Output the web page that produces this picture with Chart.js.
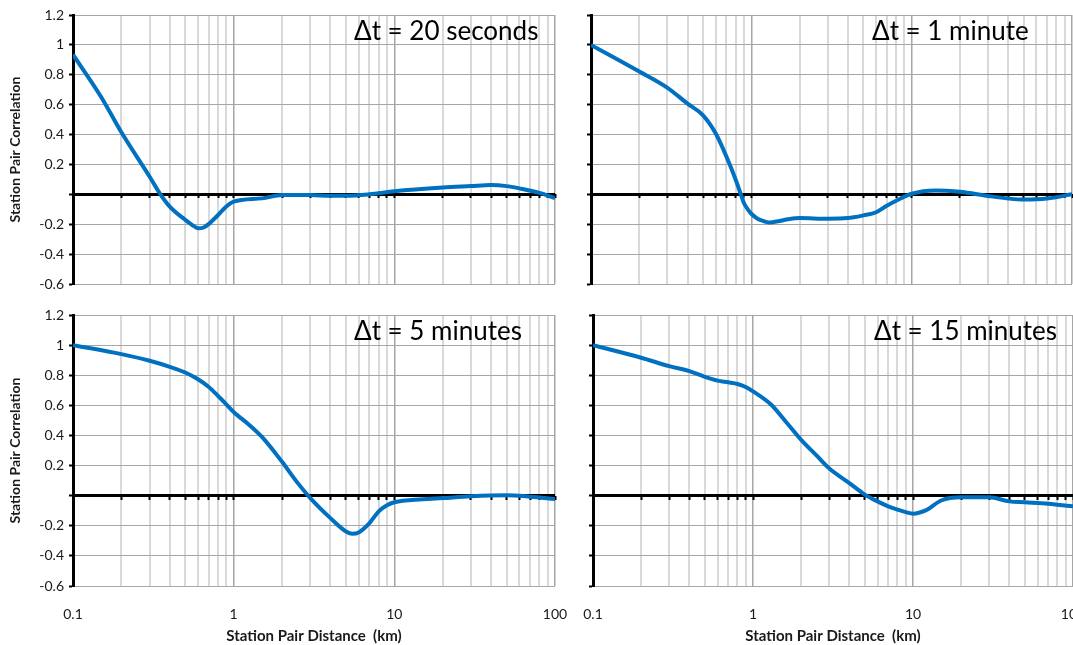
<!DOCTYPE html>
<html>
<head>
<meta charset="utf-8">
<script src="https://cdn.jsdelivr.net/npm/chart.js@4/dist/chart.umd.min.js"></script>
<style>
  html, body { margin: 0; padding: 0; background: #fff; width: 1073px; height: 645px; overflow: hidden; }
  canvas { position: absolute; }
</style>
</head>
<body>
<canvas id="c1" width="580" height="300" style="left:0;top:0"></canvas>
<canvas id="c2" width="520" height="300" style="left:575px;top:0"></canvas>
<canvas id="c3" width="580" height="345" style="left:0;top:300px"></canvas>
<canvas id="c4" width="520" height="345" style="left:575px;top:300px"></canvas>
<script>
// ---- data ----
const panelTitles = ['\u0394t = 20 seconds', '\u0394t = 1 minute', '\u0394t = 5 minutes', '\u0394t = 15 minutes'];

const dist20s = [0.1, 0.15, 0.2, 0.3, 0.35, 0.4, 0.5, 0.55, 0.6, 0.65, 0.7, 0.8, 0.9, 1, 1.5, 2, 3, 4, 5, 7, 10, 20, 30, 40, 50, 60, 80, 100];
const corr20s = [0.935, 0.65, 0.415, 0.118, 0.0, -0.082, -0.171, -0.204, -0.227, -0.222, -0.198, -0.138, -0.082, -0.049, -0.027, -0.005, -0.005, -0.01, -0.01, 0.0, 0.02, 0.045, 0.055, 0.062, 0.055, 0.04, 0.01, -0.025];

const dist1m = [0.1, 0.2, 0.3, 0.4, 0.5, 0.6, 0.7, 0.8, 0.86, 0.9, 0.95, 1, 1.1, 1.2, 1.3, 1.5, 1.7, 2, 3, 4, 5, 6, 7, 8, 10, 14, 20, 30, 40, 50, 70, 100];
const corr1m = [1.0, 0.822, 0.713, 0.607, 0.529, 0.407, 0.251, 0.096, 0.0, -0.06, -0.1, -0.13, -0.165, -0.18, -0.189, -0.178, -0.167, -0.159, -0.163, -0.159, -0.141, -0.12, -0.076, -0.043, 0.004, 0.026, 0.017, -0.011, -0.028, -0.035, -0.028, 0.0];

const dist5m = [0.1, 0.2, 0.3, 0.4, 0.5, 0.6, 0.7, 0.8, 0.9, 1, 1.25, 1.5, 2, 2.5, 3, 4, 5, 5.5, 6, 7, 8, 9, 10, 15, 20, 30, 50, 70, 100];
const corr5m = [1.0, 0.94, 0.896, 0.856, 0.818, 0.773, 0.722, 0.662, 0.607, 0.556, 0.47, 0.39, 0.225, 0.085, -0.016, -0.149, -0.238, -0.253, -0.244, -0.182, -0.104, -0.064, -0.044, -0.024, -0.016, -0.004, 0.002, -0.007, -0.022];

const dist15m = [0.1, 0.2, 0.3, 0.4, 0.5, 0.6, 0.7, 0.8, 0.9, 1, 1.3, 1.6, 2, 2.5, 3, 4, 5, 6, 7, 8, 9, 10, 12, 15, 20, 30, 40, 50, 70, 100];
const corr15m = [1.0, 0.916, 0.86, 0.827, 0.789, 0.764, 0.753, 0.742, 0.722, 0.693, 0.604, 0.493, 0.371, 0.266, 0.18, 0.084, 0.007, -0.038, -0.071, -0.093, -0.109, -0.12, -0.098, -0.032, -0.011, -0.011, -0.038, -0.044, -0.053, -0.071];

const xTickValues = [0.1, 0.2, 0.3, 0.4, 0.5, 0.6, 0.7, 0.8, 0.9, 1, 2, 3, 4, 5, 6, 7, 8, 9, 10, 20, 30, 40, 50, 60, 70, 80, 90, 100];
const xMajorTicks = [0.1, 1, 10, 100];
const xTickLabels = ['0.1', '1', '10', '100'];
const yTickMin = -0.6, yTickMax = 1.2, yTickStep = 0.2;

const yTitle = 'Station Pair Correlation';
const xTitle = 'Station Pair Distance  (km)';

// ---- chart construction ----
const FONT = 'Lato, "Open Sans", sans-serif';

function isMajor(v) { return xMajorTicks.some(m => Math.abs(m - v) < 1e-9); }
function setTicks(scale) { scale.ticks = xTickValues.map(v => ({ value: v, major: isMajor(v) })); }
function noOverhang(s) { s.paddingLeft = 0; s.paddingRight = 0; s.paddingTop = 0; s.paddingBottom = 0; }

const panelTitlePlugin = {
  id: 'panelTitle',
  afterDatasetsDraw(chart, args, opts) {
    const ctx = chart.ctx, a = chart.chartArea;
    ctx.save();
    ctx.font = '26px ' + FONT;
    ctx.fillStyle = '#000';
    ctx.textAlign = 'left';
    ctx.textBaseline = 'middle';
    ctx.fillText(opts.text, a.left + 281, a.top + 17);
    ctx.restore();
  }
};

function makeChart(id, xs, ys, title, cfg) {
  const pts = xs.map((x, i) => ({ x: x, y: ys[i] }));
  const chart = new Chart(document.getElementById(id), {
    type: 'line',
    data: { datasets: [{
      data: pts,
      borderColor: '#0070C0',
      borderWidth: 4,
      pointRadius: 0,
      fill: false,
      cubicInterpolationMode: 'monotone'
    }] },
    plugins: [panelTitlePlugin],
    options: {
      responsive: false,
      animation: false,
      devicePixelRatio: 1,
      layout: { padding: { top: 15, right: cfg.right, left: 0, bottom: 0 } },
      plugins: { legend: { display: false }, tooltip: { enabled: false }, panelTitle: { text: title } },
      scales: {
        x: {
          type: 'logarithmic',
          min: 0.1, max: 100,
          position: 'bottom',
          afterBuildTicks: setTicks,
          afterFit: s => { s.height = cfg.xHeight; noOverhang(s); },
          border: { display: false },
          grid: {
            drawTicks: false,
            color: c => (c.tick && c.tick.major) ? '#a6a6a6' : '#d9d9d9',
            lineWidth: c => (c.tick && c.tick.major) ? 1.5 : 2
          },
          ticks: {
            display: cfg.xLabels,
            autoSkip: false,
            maxRotation: 0,
            padding: 20,
            color: '#1a1a1a',
            font: { family: FONT, size: 14 },
            callback: function (v) {
              const k = xMajorTicks.findIndex(m => Math.abs(m - v) < 1e-9);
              return k >= 0 ? xTickLabels[k] : '';
            }
          },
          title: {
            display: cfg.xLabels,
            text: xTitle,
            color: '#1a1a1a',
            font: { family: FONT, size: 15, weight: 'bold' },
            padding: { top: 0, bottom: 0 }
          }
        },
        xz: {
          type: 'logarithmic',
          min: 0.1, max: 100,
          position: { y: 0 },
          afterBuildTicks: setTicks,
          afterFit: noOverhang,
          border: { display: false },
          grid: {
            drawOnChartArea: false,
            drawTicks: true,
            tickLength: 4,
            tickWidth: 2,
            tickColor: '#000'
          },
          ticks: { display: false, autoSkip: false }
        },
        y: {
          type: 'linear',
          min: yTickMin, max: yTickMax,
          afterFit: s => { s.width = cfg.yWidth; noOverhang(s); },
          border: { display: true, color: '#000', width: 3 },
          grid: {
            color: c => (c.tick && Math.abs(c.tick.value) < 1e-9) ? '#000' : '#a6a6a6',
            lineWidth: c => (c.tick && Math.abs(c.tick.value) < 1e-9) ? 3 : 1,
            drawTicks: true,
            tickLength: 4,
            tickWidth: 2,
            tickColor: '#000'
          },
          ticks: {
            display: cfg.yLabels,
            stepSize: yTickStep,
            padding: 5,
            color: '#1a1a1a',
            font: { family: FONT, size: 14 },
            callback: v => Math.abs(v) < 1e-9 ? '' : String(Math.round(v * 10) / 10)
          },
          title: {
            display: cfg.yLabels,
            text: yTitle,
            color: '#1a1a1a',
            font: { family: FONT, size: 14, weight: 'bold' },
            padding: { top: 7, bottom: 0 }
          }
        }
      }
    }
  });
  // nudge the layout so the plot area sits where the reference's does
  for (let i = 0; i < 4; i++) {
    const a = chart.chartArea;
    const dl = a.left - cfg.targetLeft;
    const dr = a.right - cfg.targetRight;
    if (Math.abs(dl) < 0.5 && Math.abs(dr) < 0.5) break;
    cfg.yWidth = Math.max(1, cfg.yWidth - dl);
    cfg.right = Math.max(0, cfg.right + dr);
    chart.options.layout.padding.right = cfg.right;
    chart.update();
  }
  return chart;
}

makeChart('c1', dist20s, corr20s, panelTitles[0], { right: 25, yWidth: 73, xHeight: 16, xLabels: false, yLabels: true, targetLeft: 73, targetRight: 555 });
makeChart('c2', dist1m, corr1m, panelTitles[1], { right: 22, yWidth: 16, xHeight: 16, xLabels: false, yLabels: false, targetLeft: 16, targetRight: 497 });
makeChart('c3', dist5m, corr5m, panelTitles[2], { right: 25, yWidth: 73, xHeight: 59, xLabels: true, yLabels: true, targetLeft: 73, targetRight: 555 });
makeChart('c4', dist15m, corr15m, panelTitles[3], { right: 22, yWidth: 18, xHeight: 59, xLabels: true, yLabels: false, targetLeft: 18, targetRight: 498 });
</script>
</body>
</html>
